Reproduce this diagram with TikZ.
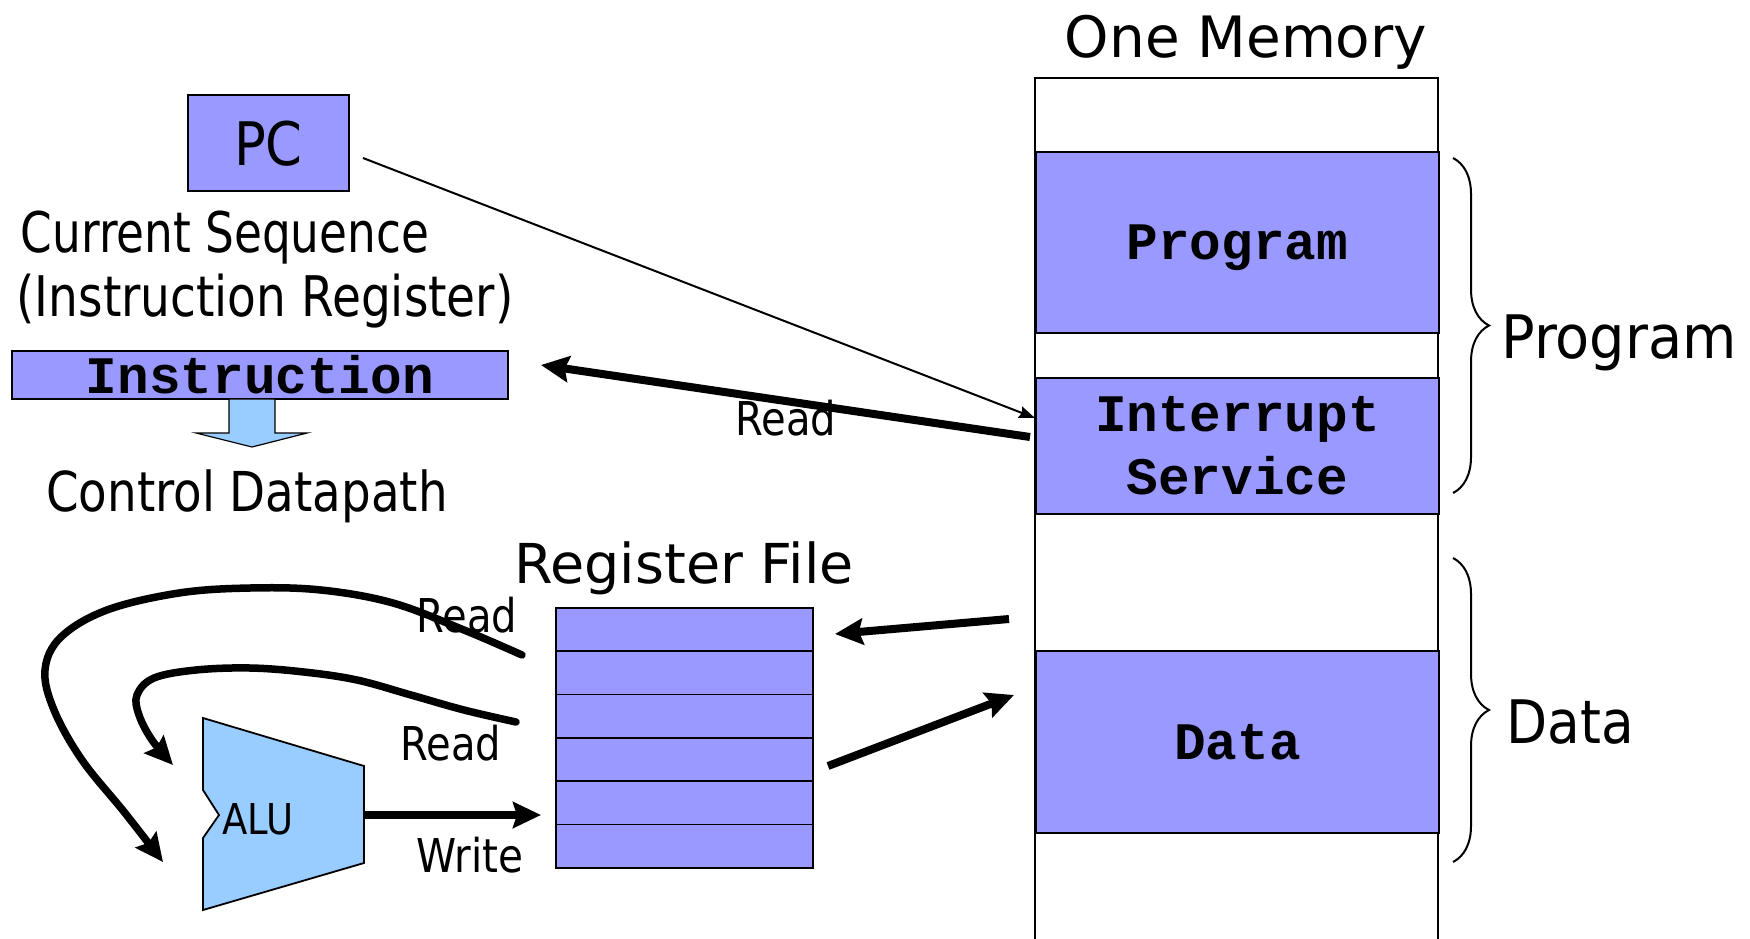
\documentclass[tikz,border=0pt]{standalone}
\usepackage{fontspec}
\usepackage{graphicx}
\setmainfont{DejaVu Sans}
\newfontfamily\courfont{Liberation Mono}
\usetikzlibrary{arrows.meta,decorations.pathreplacing}
\definecolor{memblue}{RGB}{153,153,255}
\definecolor{alublue}{RGB}{153,204,255}
\newcommand{\lbl}[3]{{\fontsize{#1}{#1}\selectfont\scalebox{#2}[1]{#3}}}
\tikzset{
  box/.style={draw, line width=1.8pt, fill=memblue, inner sep=0pt, text depth=0pt},
  mono/.style={font=\courfont\bfseries\fontsize{52.7}{63}\selectfont, align=center},
  lab/.style={anchor=base, inner sep=0pt},
  bigarrow/.style={line width=8pt, -{Stealth[length=28pt,width=26pt,inset=4pt]}},
  curvearrow/.style={line width=7.5pt, line cap=round, -{Stealth[length=28pt,width=26pt,inset=4pt]}},
  thinarrow/.style={line width=2pt, -{Stealth[length=16pt,width=12pt,inset=2pt]}},
  curly/.style={decorate, decoration={brace, amplitude=36pt}, line width=2pt},
}
\begin{document}
\begin{tikzpicture}[x=1pt, y=-1pt]
\useasboundingbox (0,0) rectangle (1750,939);

% ---------- Memory ----------
\node[lab] (onemem) at (1246,58) {\lbl{57}{0.99}{One Memory}};
\coordinate (mbl) at (1035,939);
\coordinate (mtl) at (1035,78);
\coordinate (mtr) at (1438,78);
\coordinate (mbr) at (1438,939);
\draw[line width=1.8pt] (mbl) -- (mtl) -- (mtr) -- (mbr);
\node[box, mono, minimum width=403pt, minimum height=181pt, anchor=north west] (prog) at (1035,151) {Program};
\node[box, mono, minimum width=403pt, minimum height=136pt, anchor=north west] (isr) at (1035,377) {Interrupt\\Service};
\node[box, mono, minimum width=403pt, minimum height=182pt, anchor=north west] (data) at (1035,650) {Data};

% braces
\coordinate (bpA) at (1453,158);
\coordinate (bpB) at (1453,493);
\draw[curly] (bpA) -- (bpB);
\node[lab] (proglab) at (1619,358) {\lbl{60}{0.93}{Program}};
\coordinate (bdA) at (1453,558);
\coordinate (bdB) at (1453,862);
\draw[curly] (bdA) -- (bdB);
\node[lab] (datalab) at (1570,743) {\lbl{60}{0.89}{Data}};

% ---------- PC / Instruction ----------
\node[box, minimum width=161pt, minimum height=96pt, anchor=north west] (pc) at (187,94) {\lbl{60}{0.88}{PC}};
\node[lab] (curseq) at (225,252) {\lbl{56}{0.81}{Current Sequence}};
\node[lab] (ireg) at (265,316) {\lbl{56}{0.84}{(Instruction Register)}};
\node[box, mono, minimum width=496pt, minimum height=48pt, anchor=north west] (instr) at (11,350) {Instruction};
\draw[line width=1.2pt, fill=alublue] (229,399) -- (275,399) -- (275,433) -- (307,433) -- (252,447) -- (196,433) -- (229,433) -- cycle;
\node[lab] (ctrl) at (247,511) {\lbl{55}{0.85}{Control Datapath}};

% PC -> memory
\coordinate (pcA) at (363,158);
\coordinate (pcB) at (1035,418);
\draw[thinarrow] (pcA) -- (pcB);

% memory -> instruction (Read)
\node[lab] (rdmid) at (786,435) {\lbl{46.6}{0.86}{Read}};
\coordinate (rdA) at (1030,437);
\coordinate (rdB) at (541,365);
\draw[bigarrow] (rdA) -- (rdB);

% ---------- Register file ----------
\node[lab] (rflab) at (684,583) {\lbl{55}{1.01}{Register File}};
\foreach \i in {0,...,5}
  \node[box, minimum width=257pt, minimum height=43.33pt, anchor=north west] (r\i) at (555,{607+43.33*\i}) {};

\coordinate (mrA) at (1009,619);
\coordinate (mrB) at (835,634);
\draw[bigarrow] (mrA) -- (mrB);
\coordinate (rmA) at (828,766);
\coordinate (rmB) at (1014,695);
\draw[bigarrow] (rmA) -- (rmB);

% ---------- ALU ----------
\draw[line width=1.8pt, fill=alublue] (203,718) -- (364,766) -- (364,863) -- (203,910) -- (203,838) -- (219,815) -- (203,790) -- cycle;
\node[lab] (alu) at (258,834) {\lbl{42.5}{0.87}{ALU}};

\node[lab] (rd1) at (467,632) {\lbl{46.6}{0.86}{Read}};
\node[lab] (rd2) at (451,760) {\lbl{46.6}{0.86}{Read}};
\node[lab] (wr) at (470,872) {\lbl{46.6}{0.87}{Write}};

\coordinate (aluout) at (364,815);
\coordinate (wrB) at (541,815);
\draw[bigarrow] (aluout) -- (wrB);

\coordinate (c1A) at (522,655);
\coordinate (c1B) at (163,862);
\draw[curvearrow] plot[smooth, tension=0.6] coordinates {(c1A) (464,630) (393,603) (321,590) (250,588) (179,593) (107,610) (61,637) (45,670) (54,710) (82,760) (125,813) (c1B)};

\coordinate (c2A) at (516,722);
\coordinate (c2B) at (173,765);
\draw[curvearrow] plot[smooth, tension=0.6] coordinates {(c2A) (464,710) (411,695) (357,680) (304,672) (250,668) (196,670) (154,678) (137,695) (139,715) (152,740) (c2B)};
\end{tikzpicture}
\end{document}
